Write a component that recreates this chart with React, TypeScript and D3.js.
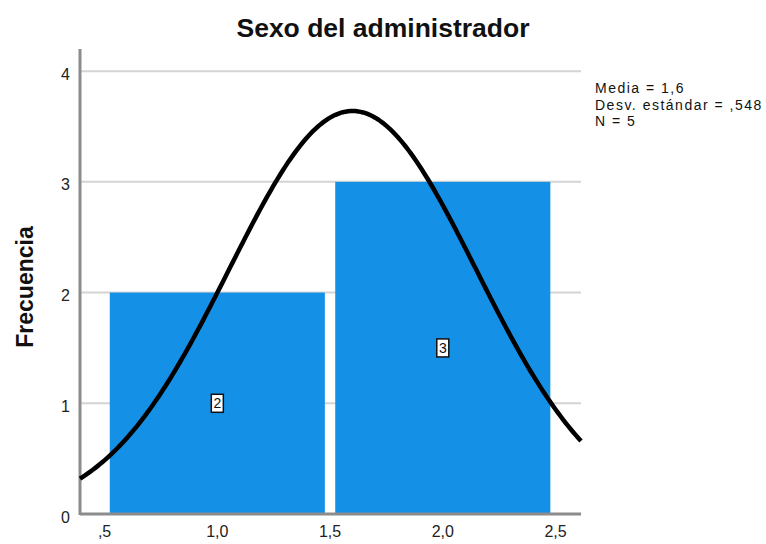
import React from "react";
import * as d3 from "d3";

const binStarts = [0.5, 1.5];
const binEnds = [1.5, 2.5];
const counts = [2, 3];
const xTicks = [0.5, 1.0, 1.5, 2.0, 2.5];
const xTickLabels = [",5", "1,0", "1,5", "2,0", "2,5"];
const yTicks = [0, 1, 2, 3, 4];
const statLines = ["Media = 1,6", "Desv. estándar = ,548", "N = 5"];
const mean = 1.6;
const sd = 0.548;
const n = 5;
const binWidth = 1;

export default function App() {
  const W = 766, H = 544;
  const left = 80, right = 581, top = 49, bottom = 514;
  const x = d3.scaleLinear().domain([0.391, 2.613]).range([left, right]);
  const y = d3.scaleLinear().domain([0, 4.2]).range([bottom, top]);
  const pad = 0.023;
  const normal = (v: number) =>
    (n * binWidth) / (sd * Math.sqrt(2 * Math.PI)) * Math.exp(-0.5 * ((v - mean) / sd) ** 2);
  const xs = d3.range(0, 201).map((i) => x.domain()[0] + (i / 200) * (x.domain()[1] - x.domain()[0]));
  const line = d3.line<number>().x((v) => x(v)).y((v) => y(normal(v)))(xs) || "";
  const font = "'Liberation Sans', Arial, sans-serif";
  return (
    <svg width={W} height={H} style={{ position: "absolute", left: 0, top: 0 }} fontFamily={font}>
      <rect width={W} height={H} fill="#fff" />
      <text x={383} y={37} textAnchor="middle" fontSize={26.5} fontWeight="bold" fill="#111">
        Sexo del administrador
      </text>
      {yTicks.map((t) => (
        <g key={t}>
          {t > 0 && <line x1={left} x2={right} y1={y(t)} y2={y(t)} stroke="#d4d4d4" strokeWidth={2} />}
          <text x={70} y={y(t) + 8.5} textAnchor="end" fontSize={16} fill="#222">{t}</text>
        </g>
      ))}
      {counts.map((c, i) => (
        <rect key={i} x={x(binStarts[i] + pad)} y={y(c)} width={x(binEnds[i] - pad) - x(binStarts[i] + pad)}
          height={y(0) - y(c)} fill="#1490e6" />
      ))}
      <line x1={left} x2={left} y1={top} y2={bottom + 1} stroke="#8c8c8c" strokeWidth={3} />
      <line x1={left} x2={right} y1={bottom} y2={bottom} stroke="#8c8c8c" strokeWidth={3} />
      <path d={line} fill="none" stroke="#000" strokeWidth={4.5} />
      {counts.map((c, i) => {
        const cx = x((binStarts[i] + binEnds[i]) / 2);
        const cy = y(c / 2);
        return (
          <g key={"l" + i}>
            <rect x={cx - 6} y={cy - 9} width={12} height={18} fill="#fff" stroke="#111" strokeWidth={1.5} />
            <text x={cx} y={cy + 5} textAnchor="middle" fontSize={14} fill="#111">{c}</text>
          </g>
        );
      })}
      {xTicks.map((t, i) => (
        <text key={t} x={x(t)} y={537} textAnchor="middle" fontSize={16} fill="#222">{xTickLabels[i]}</text>
      ))}
      <text transform={`translate(33,${287}) rotate(-90)`} textAnchor="middle" fontSize={23} fontWeight="bold" fill="#111">
        Frecuencia
      </text>
      {statLines.map((s, i) => (
        <text key={i} x={595} y={93 + i * 16.5} fontSize={14} letterSpacing={1.5} fill="#111">{s}</text>
      ))}
    </svg>
  );
}
